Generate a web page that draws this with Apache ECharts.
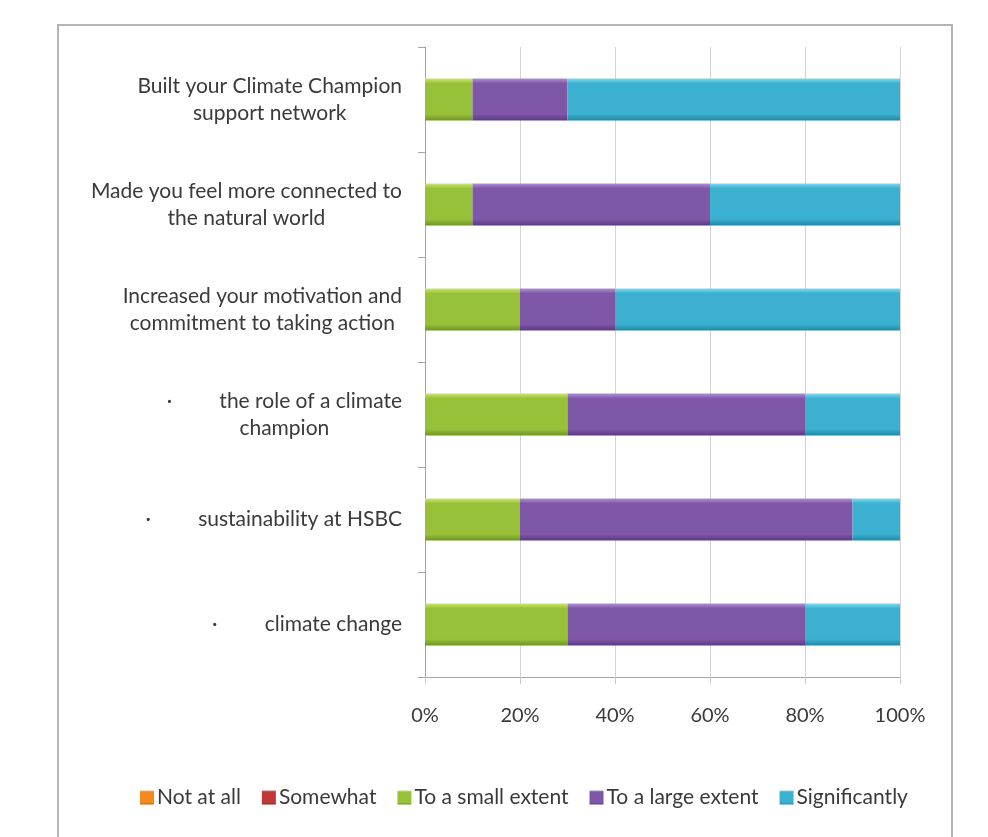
<!DOCTYPE html>
<html>
<head>
<meta charset="utf-8">
<script src="https://cdn.jsdelivr.net/npm/echarts@6/dist/echarts.min.js"></script>
<style>
html,body{margin:0;padding:0;background:#fff;}
#chart{width:988px;height:837px;}
</style>
</head>
<body>
<div id="chart"></div>
<script>
const categories = [
  "Built your Climate Champion\nsupport network",
  "Made you feel more connected to\nthe natural world",
  "Increased your motivation and\ncommitment to taking action",
  "\u00b7\u2003\u2003\u2003the role of a climate\nchampion",
  "\u00b7\u2003\u2003\u2003sustainability at HSBC",
  "\u00b7\u2003\u2003\u2003climate change"
];
const seriesNames = ["Not at all", "Somewhat", "To a small extent", "To a large extent", "Significantly"];
const notAtAll = [0, 0, 0, 0, 0, 0];
const somewhat = [0, 0, 0, 0, 0, 0];
const smallExtent = [10, 10, 20, 30, 20, 30];
const largeExtent = [20, 50, 20, 50, 70, 50];
const significantly = [70, 40, 60, 20, 10, 20];
const xTicks = [0, 20, 40, 60, 80, 100];

const baseColors = [
  ["#fbb36a", "#f28a1e", "#c9660a"],
  ["#e06a66", "#c0393a", "#8f2526"],
  ["#c9e86a", "#98c13a", "#6e9426"],
  ["#b08fd6", "#7e57a8", "#5a3a80"],
  ["#79dcf2", "#3bb0d0", "#2286a3"]
];
function grad(c) {
  return new echarts.graphic.LinearGradient(0, 0, 0, 1, [
    {offset: 0, color: c[0]},
    {offset: 0.12, color: c[1]},
    {offset: 0.85, color: c[1]},
    {offset: 1, color: c[2]}
  ]);
}
const values = [notAtAll, somewhat, smallExtent, largeExtent, significantly];
const FONT = 'Lato';
const TXT = '#3a3a3a';

const chart = echarts.init(document.getElementById('chart'));
chart.setOption({
  animation: false,
  backgroundColor: '#fff',
  graphic: [{
    type: 'rect',
    shape: {x: 58, y: 25, width: 894, height: 830},
    style: {fill: 'none', stroke: '#b4b4b4', lineWidth: 2},
    silent: true
  }],
  grid: {left: 425, right: 88, top: 47, bottom: 160, containLabel: false},
  legend: {
    data: seriesNames,
    top: 782,
    left: 135,
    itemWidth: 14,
    itemHeight: 14,
    itemGap: 21,
    icon: 'rect',
    textStyle: {fontFamily: FONT, fontSize: 21, color: TXT, padding: [0, 0, 0, -2]}
  },
  xAxis: {
    type: 'value',
    min: 0, max: 100, interval: 20,
    axisLine: {show: true, lineStyle: {color: '#a6a6a6', width: 1}},
    axisTick: {show: true, length: 7, lineStyle: {color: '#c8c8c8'}},
    splitLine: {show: true, lineStyle: {color: '#d4d4d4', width: 1}},
    axisLabel: {
      margin: 29,
      fontFamily: FONT, fontSize: 20, color: TXT,
      formatter: function (v) { return xTicks.indexOf(v) >= 0 ? v + '%' : ''; }
    }
  },
  yAxis: {
    type: 'category',
    inverse: true,
    data: categories,
    axisLine: {show: true, lineStyle: {color: '#a6a6a6'}},
    axisTick: {show: true, length: 7, lineStyle: {color: '#a6a6a6'}},
    axisLabel: {
      margin: 23,
      fontFamily: FONT, fontSize: 21, color: TXT, lineHeight: 27,
      formatter: function (v) {
        return v.split('\n').map(function (l) { return '{c|' + l + '}'; }).join('\n');
      },
      rich: {c: {align: 'center', fontFamily: FONT, fontSize: 21, color: TXT, lineHeight: 27}}
    }
  },
  series: seriesNames.map(function (name, i) {
    return {
      name: name,
      type: 'bar',
      stack: 'total',
      barWidth: 42,
      data: values[i],
      itemStyle: {color: grad(baseColors[i])}
    };
  })
});
</script>
</body>
</html>
